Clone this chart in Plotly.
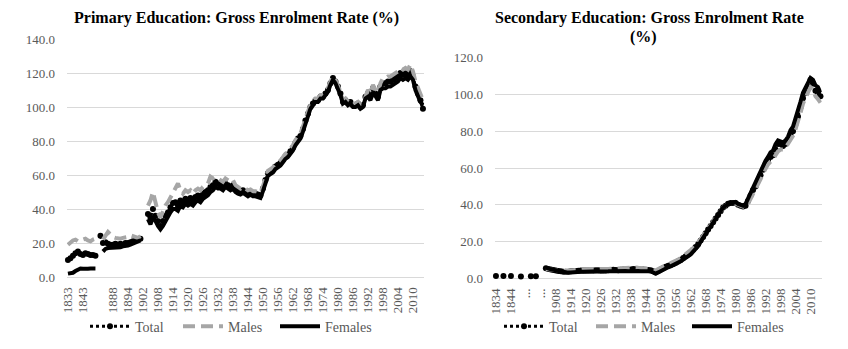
import plotly.graph_objects as go

# ---------------- Primary education: gross enrolment rate (%) ----------------
primary_years = [1833, 1835, 1836, 1837, 1838, 1840, 1843, 1844, 1845, 1846,
                 1847, 1848, 1850, 1870, 1884, 1885, 1886, 1887, 1888, 1889,
                 1890, 1891, 1892, 1893, 1894, 1895, 1896, 1897, 1899, 1900] + list(range(1902, 2015))

primary_total = [10, 11, 12.5, 14, 15, 13.5, 13, 14, 13.5, 13, 13, 12.5,
                 None, 24.3,
                 20, 20.5, 19.5, 19, 19, 19.5, 19, 19.5, 19, 20, 20, 20.5, 21, 21.5, 22, 22.5,
                 None, None,
                 37, 35, 40, 36, 33, 30, 33, 36, 38, 41,
                 43.5, 44, 42, 45, 44, 46, 45, 46.5, 45, 47,
                 48, 47, 49, 50, 51, 53, 54, 56, 55, 54,
                 53, 55, 54, 53, 54, 52, 51, 50, 51, 50,
                 49, 50, 49, 49, 48.5, 48, 52, 57, 61, 62,
                 63, 65, 66, 67, 69, 71, 72, 74, 76, 79,
                 81.5, 83, 87, 92, 96, 100, 102, 104, 104, 106,
                 106, 108, 110, 114, 117, 115, 112, 108, 103, 104,
                 102, 103, 101, 101, 102, 100, 101, 106, 108, 106,
                 111, 108, 106, 112, 114, 114, 115, 115, 116, 117,
                 118, 120, 119, 120, 119, 121, 118, 112, 108, 104,
                 99]

primary_males = [19, 20.5, 21.5, 22, 21, 21.5, 22, 22.5, 21.5, 21, 22, 22.5,
                 None, None,
                 22, 24, 26.5, 25, 23.5, 23, 22.5, 22.5, 23, 23, 23.5, 24.5, 24, 23.5, 23, 24,
                 None, None,
                 42, 45, 50, 44, 38, 35, 39, 42, 44, 47,
                 49, 52, 55, 51, 49, 51, 50, 51, 49, 51,
                 52, 51, 53, 54, 55, 59, 58, 59, 58, 57,
                 56, 58, 57, 56, 57, 54, 53, 52, 53, 52,
                 51, 51.5, 50.5, 50.5, 50, 49.5, 53.5, 58.5, 62.5, 63.5,
                 64.5, 66.5, 67.5, 68.5, 70.5, 72.5, 73.5, 75.5, 77.5, 80.5,
                 83, 84.5, 88.5, 93.5, 97.5, 101, 103, 105, 105, 107,
                 107, 109, 111, 115, 118, 116, 113, 109, 104, 105,
                 103, 104, 102, 102, 103, 101, 102, 107, 110, 108,
                 113, 110, 108, 114, 117, 117, 118, 118, 119, 120,
                 121, 123, 122, 123, 122, 125, 121, 115, 111, 107,
                 104]

primary_females = [2, 2.2, 2.5, 3.5, 4.5, 5, 4.8, 4.5, 4.8, 5, 4.8, 5,
                   None, None,
                   15, 16.5, 17, 17, 17.5, 17.5, 17, 17.5, 18, 18, 18.5, 19, 19.5, 20, 20.5, 21.5,
                   None, None,
                   34, 31, 35, 33, 30, 28, 30, 33, 35, 38,
                   40, 40, 39, 42, 41, 43, 42, 43, 42, 44,
                   45, 44, 46, 47, 48, 50, 51, 53, 52, 52,
                   51, 53, 52, 51, 52, 50, 49, 48.5, 49.5, 48.5,
                   47.5, 48.5, 47.5, 47.5, 47, 46.5, 50.5, 55.5, 59.5, 60.5,
                   61.5, 63.5, 64.5, 65.5, 67.5, 69.5, 70.5, 72.5, 74.5, 77.5,
                   80, 81.5, 85.5, 90.5, 94.5, 99, 101, 103, 103, 105,
                   105, 107, 109, 113, 116, 114, 111, 107, 102, 103,
                   101, 102, 100, 100, 101, 99, 100, 105, 106, 104,
                   109, 106, 104, 110, 111, 111, 112, 112, 113, 114,
                   115, 117, 116, 117, 116, 118, 116, 110, 106, 103,
                   101]

primary_tick_years = [1833, 1843, 1888, 1894, 1902, 1908, 1914, 1920, 1926, 1932,
                      1938, 1944, 1950, 1956, 1962, 1968, 1974, 1980, 1986, 1992,
                      1998, 2004, 2010]
primary_tick_labels = [str(y) for y in primary_tick_years]

# ---------------- Secondary education: gross enrolment rate (%) ----------------
secondary_years = [1834, 1836, 1838, 1839, 1840, 1842, 1844, 1846, 1848, 1850,
                   1852, 1855, 1860, 1865, 1870, 1875, 1880, 1885, 1890, 1900] + list(range(1904, 2015))

secondary_total = [1.3, None, None, 1.2, None, None, 1.2, None, None, None,
                   1.0, None, None, None, 1.1, None, 1.1, None, None, None,
                   5.5, 5, 4.8, 4.5, 4.3, 4, 3.8, 3.6, 3.5, 3.6,
                   3.8, 4, 4, 4.1, 4.2, 4.2, 4.3, 4.3, 4.2, 4.3,
                   4.4, 4.4, 4.3, 4.2, 4.3, 4.4, 4.5, 4.6, 4.5, 4.4,
                   4.6, 4.8, 4.7, 4.6, 4.8, 5, 4.9, 4.8, 4.7, 4.8,
                   4.6, 4.5, 4.4, 3.8, 3.2, 4, 4.8, 5.5, 6.3, 6.8,
                   7.3, 7.8, 8.5, 9.3, 10, 11, 12, 13, 14, 15.5,
                   17, 18.5, 20.5, 22.5, 24.5, 26.5, 28.5, 30.5, 32.5, 34.5,
                   36.5, 38.5, 39.5, 40.5, 41, 41, 41, 40, 39.5, 39,
                   39.5, 42, 45, 48, 50, 53, 56, 59, 62, 64,
                   66, 67, 70, 73, 73, 72, 73, 75, 78, 80,
                   84, 88, 93, 98, 101, 104, 108, 106, 102, 101,
                   99]

secondary_males = [None] * 20 + [
                   5, 4.8, 4.6, 4.4, 4.3, 4.1, 4, 4, 4.1, 4.3,
                   4.5, 4.6, 4.7, 4.8, 4.8, 4.9, 5, 5, 4.9, 5,
                   5.1, 5.1, 5, 4.9, 5, 5.1, 5.2, 5.3, 5.4, 5.3,
                   5.5, 5.8, 5.6, 5.5, 5.7, 6, 5.9, 5.7, 5.6, 5.6,
                   5.4, 5.2, 5, 4.6, 4.2, 5, 5.8, 6.5, 7.2, 7.8,
                   8.3, 8.8, 9.5, 10.2, 11, 12, 13, 14, 15, 16.5,
                   18, 19.5, 21, 23, 25, 27, 29, 31, 33, 35,
                   37, 38.5, 39.5, 40.5, 41, 41, 40.5, 39.5, 39, 38.5,
                   38.5, 40.5, 43, 46, 48, 51, 54, 57, 60, 62,
                   63.5, 64.5, 67, 69, 70, 70, 71, 73, 75.5, 77.5,
                   81, 85, 90, 95, 98, 101, 104, 103, 99, 97.5,
                   95.5]

secondary_females = [None] * 20 + [
                     5.8, 5.2, 4.9, 4.6, 4.3, 3.9, 3.6, 3.3, 3.1, 3.1,
                     3.2, 3.4, 3.4, 3.5, 3.6, 3.6, 3.7, 3.7, 3.6, 3.7,
                     3.8, 3.8, 3.7, 3.6, 3.7, 3.8, 3.9, 4, 3.8, 3.7,
                     3.9, 4, 4, 3.9, 4, 4.2, 4.1, 4, 3.9, 4,
                     3.9, 3.8, 3.7, 3.1, 2.6, 3.2, 4, 4.7, 5.5, 6,
                     6.5, 7, 7.7, 8.5, 9.2, 10, 11, 12, 13, 14.5,
                     16, 17.5, 20, 22, 24, 26, 28, 30, 32, 34,
                     36, 38.5, 39.5, 40.5, 41, 41, 41.5, 40.5, 40, 39.5,
                     40.5, 43.5, 47, 50, 52, 55, 58, 61, 64, 66,
                     68.5, 69.5, 73, 75, 74.5, 74, 75, 77, 80.5, 82.5,
                     87, 91, 96, 101, 104, 107, 109, 108, 105, 104,
                     101]

secondary_tick_years = [1834, 1844, 1860, 1890, 1908, 1914, 1920, 1926, 1932, 1938,
                        1944, 1950, 1956, 1962, 1968, 1974, 1980, 1986, 1992, 1998,
                        2004, 2010]
secondary_tick_labels = ["1834", "1844", "...", "...", "1908", "1914", "1920", "1926",
                         "1932", "1938", "1944", "1950", "1956", "1962", "1968", "1974",
                         "1980", "1986", "1992", "1998", "2004", "2010"]

series_names = ["Total", "Males", "Females"]

# ---------------- styling ----------------
SERIF = "Liberation Serif"
GRID = "#D9D9D9"
TEXT_GREY = "#595959"
MALE_GREY = "#A6A6A6"
W, H = 848, 349


def px_x(v):
    return v / W


def px_y(v):
    return (H - v) / H


fig = go.Figure()


def add_panel(years, values, xa, ya, legends):
    cats = [str(y) for y in years]
    styles = [
        dict(mode="lines+markers", line=dict(color="black", width=3, dash="dot"),
             marker=dict(color="black", size=6), cliponaxis=False),
        dict(mode="lines", line=dict(color=MALE_GREY, width=4, dash="12px,6px")),
        dict(mode="lines", line=dict(color="black", width=4)),
    ]
    for name, vals, style, lg in zip(series_names, values, styles, legends):
        fig.add_trace(go.Scatter(x=cats, y=vals, name=name, xaxis=xa, yaxis=ya,
                                 legend=lg, **style))
    return cats


p_cats = add_panel(primary_years, [primary_total, primary_males, primary_females],
                   "x", "y", ["legend", "legend2", "legend3"])
s_cats = add_panel(secondary_years, [secondary_total, secondary_males, secondary_females],
                   "x2", "y2", ["legend4", "legend5", "legend6"])

tick_font = dict(family=SERIF, size=13, color=TEXT_GREY)

xaxis_common = dict(
    type="category", tickangle=-90, showgrid=False, zeroline=False, showline=False,
    ticks="outside", ticklen=4, tickcolor="rgba(0,0,0,0)", tickfont=tick_font,
    automargin=False,
)
yaxis_common = dict(
    showgrid=True, gridcolor=GRID, gridwidth=1, zeroline=True, zerolinecolor=GRID,
    zerolinewidth=1, showline=False, tickformat=".1f", dtick=20,
    ticks="outside", ticklen=8, tickcolor="rgba(0,0,0,0)", tickfont=tick_font,
    automargin=False,
)

legend_common = dict(
    orientation="h", font=dict(family=SERIF, size=14, color=TEXT_GREY),
    bgcolor="rgba(0,0,0,0)", itemwidth=40, xanchor="left", yanchor="middle",
    y=px_y(326.7),
)
# symbol start positions of the legend entries (px), left panel then right panel
legend_x = [90, 183, 280, 504, 596, 692]
legend_layout = {}
for i, lx in enumerate(legend_x):
    key = "legend" if i == 0 else f"legend{i + 1}"
    legend_layout[key] = dict(legend_common, x=px_x(lx - 5))

fig.update_layout(
    width=W, height=H, autosize=False,
    margin=dict(l=0, r=0, t=0, b=0, autoexpand=False),
    paper_bgcolor="white", plot_bgcolor="white",
    font=dict(family=SERIF),
    xaxis=dict(xaxis_common, domain=[px_x(66.7), px_x(424.2)], anchor="y",
               categoryorder="array", categoryarray=p_cats,
               range=[-0.5, len(p_cats) - 0.5],
               tickvals=[str(y) for y in primary_tick_years], ticktext=primary_tick_labels),
    yaxis=dict(yaxis_common, domain=[px_y(277), px_y(39)], anchor="x", range=[0, 140]),
    xaxis2=dict(xaxis_common, domain=[px_x(494.7), px_x(821.7)], anchor="y2",
                categoryorder="array", categoryarray=s_cats,
                range=[-0.5, len(s_cats) - 0.5],
                tickvals=[str(y) for y in secondary_tick_years], ticktext=secondary_tick_labels),
    yaxis2=dict(yaxis_common, domain=[px_y(278.3), px_y(57.7)], anchor="x2", range=[0, 120]),
    showlegend=True,
    **legend_layout,
)

title_font = dict(family=SERIF, size=16, color="#000000", weight="bold")
fig.add_annotation(text="Primary Education: Gross Enrolment Rate (%)",
                   xref="paper", yref="paper", x=px_x(236.7), y=px_y(18),
                   xanchor="center", yanchor="middle", showarrow=False, font=title_font)
fig.add_annotation(text="Secondary Education: Gross Enrolment Rate",
                   xref="paper", yref="paper", x=px_x(649), y=px_y(18),
                   xanchor="center", yanchor="middle", showarrow=False, font=title_font)
fig.add_annotation(text="(%)",
                   xref="paper", yref="paper", x=px_x(643), y=px_y(36.7),
                   xanchor="center", yanchor="middle", showarrow=False, font=title_font)

fig.write_html("out.html")
